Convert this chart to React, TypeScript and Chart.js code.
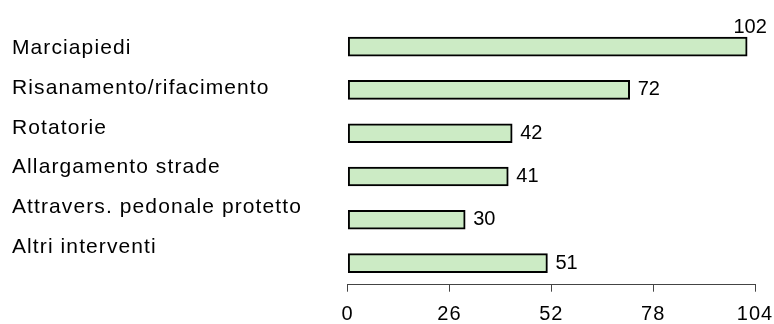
import React, { useEffect, useRef } from "react";
import { Chart, registerables } from "chart.js";

Chart.register(...registerables);

const categories = [
  "Marciapiedi",
  "Risanamento/rifacimento",
  "Rotatorie",
  "Allargamento strade",
  "Attravers. pedonale protetto",
  "Altri interventi",
];
const values = [102, 72, 42, 41, 30, 51];
const xTicks = [0, 26, 52, 78, 104];

const BAR_FILL = "#CCEBC5";
const BAR_BORDER = "#000000";
const FONT = "'Liberation Sans', Arial, sans-serif";

export default function App() {
  const ref = useRef<HTMLCanvasElement>(null);

  useEffect(() => {
    document.body.style.margin = "0";
    const canvas = ref.current;
    if (!canvas) return;

    // Category labels are drawn with slightly wider letter spacing (like the reference rasterizer)
    const labelSpacing = {
      id: "labelSpacing",
      beforeDraw(chart: any) {
        (chart.ctx as any).letterSpacing = "1.1px";
      },
      beforeDatasetsDraw(chart: any) {
        (chart.ctx as any).letterSpacing = "0px";
      },
      afterDraw(chart: any) {
        (chart.ctx as any).letterSpacing = "0px";
      },
    };

    const valueLabels = {
      id: "valueLabels",
      afterDatasetsDraw(chart: any) {
        const ctx = chart.ctx;
        const meta = chart.getDatasetMeta(0);
        ctx.save();
        ctx.font = `20px ${FONT}`;
        ctx.fillStyle = "#000";
        meta.data.forEach((bar: any, i: number) => {
          const text = String(values[i]);
          const w = ctx.measureText(text).width;
          const p = bar.getProps(["x", "y", "height"], true);
          if (p.x + 8 + w > chart.width - 2) {
            ctx.textAlign = "center";
            ctx.textBaseline = "alphabetic";
            ctx.fillText(text, p.x + 3, p.y - p.height / 2 - 4);
          } else {
            ctx.textAlign = "left";
            ctx.textBaseline = "middle";
            ctx.fillText(text, p.x + 8, p.y);
          }
        });
        ctx.restore();
      },
    };

    const chart = new Chart(canvas, {
      type: "bar",
      data: {
        labels: categories,
        datasets: [
          {
            data: values,
            backgroundColor: BAR_FILL,
            borderColor: BAR_BORDER,
            borderWidth: 2,
            borderSkipped: false,
            barThickness: 19,
            yAxisID: "y",
          },
        ],
      },
      options: {
        indexAxis: "y",
        responsive: false,
        animation: false,
        layout: { padding: { left: 12, top: 25, right: 19, bottom: 0 } },
        plugins: { legend: { display: false }, tooltip: { enabled: false } },
        scales: {
          x: {
            type: "linear",
            min: 0,
            max: 104,
            z: 1,
            afterBuildTicks: (s: any) => {
              s.ticks = xTicks.map((v) => ({ value: v }));
            },
            afterFit: (s: any) => {
              s.height = 39.3;
              s.paddingLeft = 0;
              s.paddingRight = 0;
            },
            grid: {
              display: true,
              drawOnChartArea: false,
              drawTicks: true,
              tickLength: 7,
              color: "#444",
              lineWidth: 1,
            },
            border: { display: true, color: "#444", width: 1 },
            ticks: {
              font: { family: FONT, size: 20 },
              color: "#000",
              padding: 11,
              maxRotation: 0,
              autoSkip: false,
            },
          },
          y: { type: "category", display: false, offset: true },
          y2: {
            type: "linear",
            position: "left",
            reverse: true,
            offset: false,
            min: -0.591,
            max: 5.956,
            afterBuildTicks: (s: any) => {
              s.ticks = categories.map((_, i) => ({ value: i }));
            },
            afterFit: (s: any) => {
              s.width = 335.7;
              s.paddingTop = 0;
              s.paddingBottom = 0;
            },
            grid: { display: false, drawTicks: false, offset: false },
            border: { display: false },
            ticks: {
              crossAlign: "far",
              padding: 0,
              autoSkip: false,
              color: "#000",
              font: { family: FONT, size: 21 },
              callback: (v: any) => categories[v as number] ?? "",
            },
          },
        },
      } as any,
      plugins: [labelSpacing, valueLabels],
    });

    return () => chart.destroy();
  }, []);

  return <canvas ref={ref} width={774} height={324} style={{ display: "block" }} />;
}
